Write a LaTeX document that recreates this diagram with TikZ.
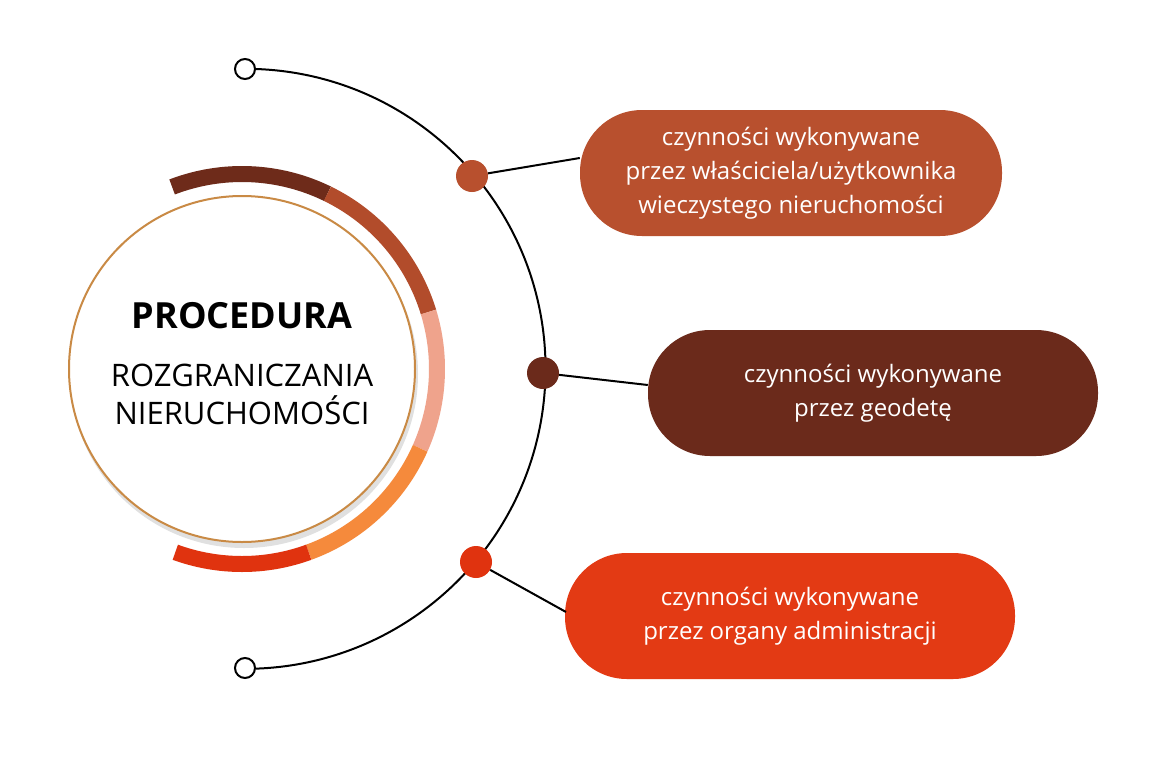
\documentclass[tikz,border=0pt]{standalone}
\usepackage{fontspec}
\setmainfont{Open Sans}
\definecolor{cdark}{HTML}{6E2B1A}
\definecolor{cbrown}{HTML}{B24C2B}
\definecolor{cpink}{HTML}{EFA38C}
\definecolor{corange}{HTML}{F58A3C}
\definecolor{cred}{HTML}{E0330F}
\definecolor{pone}{HTML}{B8502E}
\definecolor{ptwo}{HTML}{6B2A1B}
\definecolor{pthree}{HTML}{E33A14}
\definecolor{cborder}{HTML}{C98A45}
\begin{document}
\begin{tikzpicture}[x=1pt,y=-1pt,
  pill/.style={rounded corners=62pt,minimum width=#1,minimum height=126pt,text=white,align=center,font=\fontsize{24}{34}\selectfont,inner sep=0pt},
  dot/.style={circle,minimum size=32pt,inner sep=0pt},
  endc/.style={circle,draw=black,fill=white,line width=2pt,minimum size=20pt,inner sep=0pt},
  seg/.style={line width=16pt}]
\useasboundingbox (0,0) rectangle (1160,774);
\fill[white] (0,0) rectangle (1160,774);
% big arc
\node[endc] (e1) at (245,69) {};
\node[endc] (e2) at (245,668) {};
\draw[line width=2pt] (e1.east) arc[start angle=-88,end angle=88,radius=300];
% ring segments
\coordinate (c) at (242,369);
\draw[seg,cdark] (c) ++(-111:195) arc[start angle=-111,end angle=-64,radius=195];
\draw[seg,cbrown] (c) ++(-64:195) arc[start angle=-64,end angle=-17,radius=195];
\draw[seg,cpink] (c) ++(-17:195) arc[start angle=-17,end angle=24,radius=195];
\draw[seg,corange] (c) ++(24:195) arc[start angle=24,end angle=70,radius=195];
\draw[seg,cred] (c) ++(70:195) arc[start angle=70,end angle=110,radius=195];
% main circle
\fill[black!12] (244,374) circle[radius=174];
\node[circle,fill=white,draw=cborder,line width=2pt,minimum size=346pt,inner sep=0pt] (main) at (c) {};
\node[font=\bfseries\fontsize{36}{40}\selectfont] (t1) at (242,316) {PROCEDURA};
\node[font=\fontsize{31}{38}\selectfont,align=center] (t2) at (242,394) {ROZGRANICZANIA\\NIERUCHOMOŚCI};
% pills
\node[pill=422pt,fill=pone] (p1) at (791,173) {czynności wykonywane\\przez właściciela/użytkownika\\wieczystego nieruchomości};
\node[pill=450pt,fill=ptwo] (p2) at (873,393) {czynności wykonywane\\przez geodetę};
\node[pill=450pt,fill=pthree] (p3) at (790,616) {czynności wykonywane\\przez organy administracji};
% dots
\node[dot,fill=pone] (d1) at (472,176) {};
\node[dot,fill=ptwo] (d2) at (543,373) {};
\node[dot,fill=cred] (d3) at (476,562) {};
\draw[line width=2pt] (d1) -- (p1.west|-158,158);
\draw[line width=2pt] (d2) -- (p2.west|-385,385);
\draw[line width=2pt] (d3) -- (566,612) coordinate (k3);
\end{tikzpicture}
\end{document}
